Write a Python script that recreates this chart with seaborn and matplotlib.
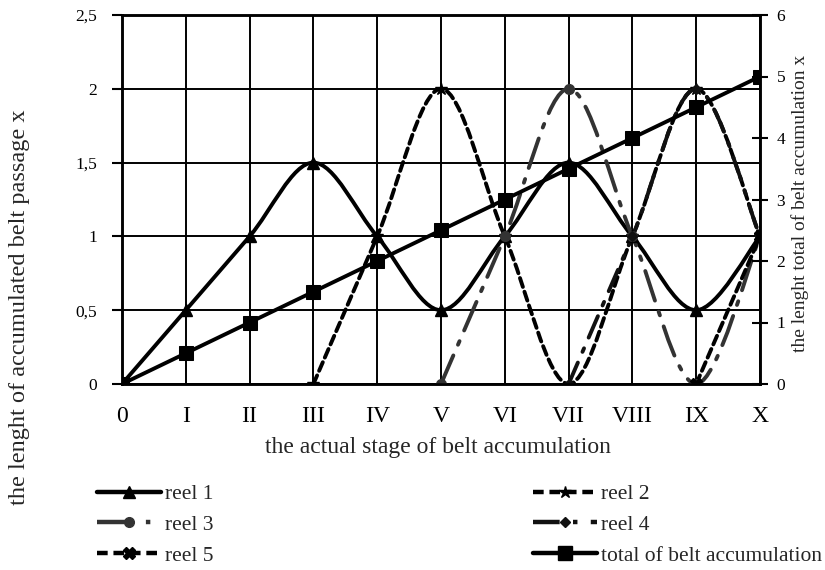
import numpy as np
import pandas as pd
import seaborn as sns
from matplotlib import pyplot as plt
from matplotlib.path import Path
from matplotlib.patches import PathPatch
from matplotlib.lines import Line2D

# ---------------------------------------------------------------------------
# Data
# ---------------------------------------------------------------------------
stages = ["0", "I", "II", "III", "IV", "V", "VI", "VII", "VIII", "IX", "X"]

reel1 = [0, 0.5, 1, 1.5, 1, 0.5, 1, 1.5, 1, 0.5, 1]
reel2 = [None, None, None, 0, 1, 2, 1, 0, 1, 2, 1]
reel3 = [None, None, None, None, None, 0, 1, 2, 1, 0, 1]
reel4 = [None, None, None, None, None, None, None, 0, 1, 2, 1]
reel5 = [None, None, None, None, None, None, None, None, None, 0, 1]
total = [0, 0.5, 1, 1.5, 2, 2.5, 3, 3.5, 4, 4.5, 5]

left_ticks = [0, 0.5, 1, 1.5, 2, 2.5]
left_tick_labels = ["0", "0,5", "1", "1,5", "2", "2,5"]
right_ticks = [0, 1, 2, 3, 4, 5, 6]


def smooth_path(xs, ys):
    # excel-like smoothed line: catmull-rom turned into cubic bezier pieces
    pts = [(x, y) for x, y in zip(xs, ys) if y is not None]
    pts = np.array(pts, dtype=float)
    n = len(pts)
    verts = [pts[0]]
    codes = [Path.MOVETO]
    for i in range(n - 1):
        p0 = pts[i - 1] if i > 0 else pts[i]
        p1 = pts[i]
        p2 = pts[i + 1]
        p3 = pts[i + 2] if i + 2 < n else pts[i + 1]
        c1 = p1 + (p2 - p0) / 6.0
        c2 = p2 - (p3 - p1) / 6.0
        verts += [c1, c2, p2]
        codes += [Path.CURVE4] * 3
    return Path(verts, codes)


sns.set_style("white")
plt.rcParams['font.family'] = ['Liberation Serif', 'DejaVu Serif']

fig = plt.figure(figsize=(8.25, 5.7), dpi=100)
ax = fig.add_axes([122 / 825, 1 - 384 / 570, 638 / 825, 369 / 570])
ax2 = ax.twinx()

xpos = np.arange(len(stages))

styles = [
    # data, linestyle, color, marker, markersize, label
    (reel1, '-', 'black', '^', 8, 'reel 1'),
    (reel2, (0, (2.4, 1.3)), 'black', '*', 9, 'reel 2'),
    (reel3, (0, (8, 3, 1, 3)), '#333333', 'o', 7, 'reel 3'),
    (reel4, (0, (6, 3, 1, 3)), '#111111', 'D', 5, 'reel 4'),
    (reel5, (0, (2.4, 1.3)), 'black', 'X', 8, 'reel 5'),
]

handles = []
for data, ls, col, mk, ms, lab in styles:
    patch = PathPatch(smooth_path(xpos, data), fill=False, edgecolor=col,
                      linewidth=2.8, linestyle=ls, capstyle='round', zorder=3)
    ax.add_patch(patch)
    xs = [x for x, y in zip(xpos, data) if y is not None]
    ys = [y for y in data if y is not None]
    ax.plot(xs, ys, linestyle='none', marker=mk, markersize=ms, color=col, zorder=4)
    handles.append(Line2D([], [], color=col, linestyle=ls, linewidth=3.2,
                          marker=mk, markersize=ms, label=lab))

# total accumulation on the secondary axis
df_total = pd.DataFrame({'stage': xpos, 'total': total})
sns.lineplot(data=df_total, x='stage', y='total', ax=ax2, color='black',
             linewidth=2.8, marker='s', markersize=9.5, markeredgecolor='black')
handles.append(Line2D([], [], color='black', linewidth=3.2, marker='s',
                      markersize=9.5, label='total of belt accumulation'))

ax.set_xlim(0, 10)
ax.set_ylim(0, 2.5)
ax2.set_ylim(0, 6)

ax.set_xticks(xpos)
ax.set_xticklabels(stages, fontsize=17)
ax.set_yticks(left_ticks)
ax.set_yticklabels(left_tick_labels, fontsize=12.5)
ax2.set_yticks(right_ticks)
ax2.set_yticklabels([str(t) for t in right_ticks], fontsize=12.5)

ax.grid(True, color='black', linewidth=1.4)
ax.set_axisbelow(True)
ax2.grid(False)
ax.set_xlabel('')
ax.set_ylabel('')
ax2.set_xlabel('')
ax2.set_ylabel('')

for a in (ax, ax2):
    for sp in a.spines.values():
        sp.set_color('black')
        sp.set_linewidth(1.8)
ax.tick_params(axis='y', direction='out', length=7, width=1.5, pad=11, colors='black')
ax.tick_params(axis='x', direction='inout', length=8, width=1.5, pad=12, colors='black')
ax2.tick_params(axis='y', direction='inout', length=12, width=1.5, pad=6, colors='black')

fig.text(438 / 825, 1 - 448 / 570, 'the actual stage of belt accumulation',
         ha='center', va='center', fontsize=17)
fig.text(20 / 825, 1 - 307 / 570, 'the lenght of accumulated belt passage x',
         ha='center', va='center', rotation=90, fontsize=17.5)
fig.text(800 / 825, 1 - 203 / 570, 'the lenght total of belt accumulation x',
         ha='center', va='center', rotation=90, fontsize=14)

leg_kw = dict(loc='upper left', frameon=False, fontsize=15.5, handlelength=2.95,
              handletextpad=0.2, labelspacing=0.5, borderpad=0, borderaxespad=0)
fig.legend(handles=[handles[0], handles[2], handles[4]],
           bbox_to_anchor=(97 / 825, 1 - 484 / 570), **leg_kw)
fig.legend(handles=[handles[1], handles[3], handles[5]],
           bbox_to_anchor=(533 / 825, 1 - 484 / 570), **leg_kw)

fig.savefig('out.png', dpi=100)
